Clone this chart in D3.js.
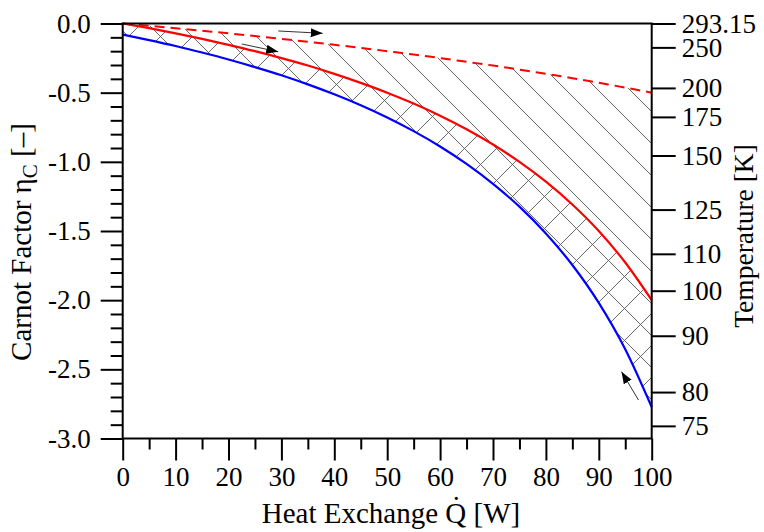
<!DOCTYPE html>
<html lang="en">
<head>
  <meta charset="UTF-8">
  <title>Carnot Factor vs Heat Exchange</title>
  <script src="https://d3js.org/d3.v7.min.js"></script>
  <style>
    body { margin: 0; background: #fff; }
    text { font-family: "Liberation Serif", "Times New Roman", serif; }
  </style>
</head>
<body>
  <svg width="764" height="532"></svg>
  <script>
    // heat exchange Q [W]
    const heat = [0, 5, 10, 15, 20, 25, 30, 35, 40, 45, 50, 55, 60, 65, 70, 75, 80, 85, 90, 95, 100];
    // carnot factors
    const etaRed = [0, -0.034, -0.071, -0.111, -0.154, -0.200, -0.250, -0.304, -0.364, -0.429, -0.500,
                    -0.579, -0.667, -0.765, -0.875, -1.000, -1.143, -1.308, -1.500, -1.728, -2.000];
    const etaBlue = [-0.080, -0.120, -0.163, -0.210, -0.260, -0.315, -0.374, -0.440, -0.512, -0.591, -0.679,
                     -0.778, -0.889, -1.015, -1.159, -1.324, -1.518, -1.746, -2.020, -2.355, -2.773];
    const etaDashed = [0, -0.017, -0.035, -0.053, -0.071, -0.091, -0.111, -0.132, -0.154, -0.176, -0.200,
                       -0.224, -0.250, -0.277, -0.304, -0.333, -0.364, -0.395, -0.429, -0.463, -0.500];

    const xMajor = [0, 10, 20, 30, 40, 50, 60, 70, 80, 90, 100];
    const xMinor = [5, 15, 25, 35, 45, 55, 65, 75, 85, 95];
    const yMajor = [0, -0.5, -1.0, -1.5, -2.0, -2.5, -3.0];
    const yMinor = [-0.1, -0.2, -0.3, -0.4, -0.6, -0.7, -0.8, -0.9, -1.1, -1.2, -1.3, -1.4,
                    -1.6, -1.7, -1.8, -1.9, -2.1, -2.2, -2.3, -2.4, -2.6, -2.7, -2.8, -2.9];
    const T0 = 293.15;
    const tempTicks = [293.15, 250, 200, 175, 150, 125, 110, 100, 90, 80, 75];
    const tempLabels = ["293.15", "250", "200", "175", "150", "125", "110", "100", "90", "80", "75"];

    // arrows [Q, eta] -> [Q, eta]
    const arrows = [
      { from: [29.4, -0.054], to: [37.8, -0.071] },
      { from: [22.5, -0.148], to: [29.4, -0.204] },
      { from: [97.5, -2.722], to: [94.3, -2.517] }
    ];

    const pLeft = 122.7, pRight = 651.7, pTop = 23.5, pBottom = 438.5;
    const fs = 27;

    const svg = d3.select("svg");
    const x = d3.scaleLinear().domain([0, 100]).range([pLeft, pRight]);
    const y = d3.scaleLinear().domain([0, -3]).range([pTop, pBottom]);

    const pts = (vals) => heat.map((q, i) => [q, vals[i]]);
    const line = d3.line().x(d => x(d[0])).y(d => y(d[1])).curve(d3.curveMonotoneX);

    const defs = svg.append("defs");
    const areaBetween = (upper, lower) => d3.area()
        .x((d, i) => x(heat[i]))
        .y0((d, i) => y(lower[i]))
        .y1((d, i) => y(upper[i]))
        .curve(d3.curveMonotoneX)(heat);

    defs.append("clipPath").attr("id", "clipSingle")
      .append("path").attr("d", areaBetween(etaDashed, etaBlue));
    defs.append("clipPath").attr("id", "clipCross")
      .append("path").attr("d", areaBetween(etaRed, etaBlue));

    defs.append("marker")
        .attr("id", "head")
        .attr("markerUnits", "userSpaceOnUse")
        .attr("markerWidth", 14).attr("markerHeight", 10)
        .attr("refX", 12).attr("refY", 4.5)
        .attr("orient", "auto")
      .append("path")
        .attr("d", "M0,0L12,4.5L0,9Z")
        .attr("fill", "#000");

    // hatching, spacing 32px vertical
    const step = 32;
    const back = d3.range(-21, 11).map(k => 4 + step * k);
    const fwd = d3.range(4, 36).map(k => 5 + step * k);

    svg.append("g").attr("clip-path", "url(#clipSingle)")
        .attr("stroke", "#555").attr("stroke-width", 0.9)
      .selectAll("line").data(back).join("line")
        .attr("x1", pLeft).attr("y1", c => pLeft + c)
        .attr("x2", pRight).attr("y2", c => pRight + c);

    svg.append("g").attr("clip-path", "url(#clipCross)")
        .attr("stroke", "#555").attr("stroke-width", 0.9)
      .selectAll("line").data(fwd).join("line")
        .attr("x1", pLeft).attr("y1", c => c - pLeft)
        .attr("x2", pRight).attr("y2", c => c - pRight);

    // curves
    svg.append("path").attr("d", line(pts(etaDashed)))
        .attr("fill", "none").attr("stroke", "#ff0000").attr("stroke-width", 2)
        .attr("stroke-dasharray", "10,6");
    svg.append("path").attr("d", line(pts(etaRed)))
        .attr("fill", "none").attr("stroke", "#ff0000").attr("stroke-width", 2.2);
    svg.append("path").attr("d", line(pts(etaBlue)))
        .attr("fill", "none").attr("stroke", "#0000ff").attr("stroke-width", 2.2);

    // arrows
    svg.append("g").selectAll("line").data(arrows).join("line")
        .attr("x1", d => x(d.from[0])).attr("y1", d => y(d.from[1]))
        .attr("x2", d => x(d.to[0])).attr("y2", d => y(d.to[1]))
        .attr("stroke", "#333").attr("stroke-width", 1)
        .attr("marker-end", "url(#head)");

    // frame
    svg.append("rect")
        .attr("x", pLeft).attr("y", pTop)
        .attr("width", pRight - pLeft).attr("height", pBottom - pTop)
        .attr("fill", "none").attr("stroke", "#000").attr("stroke-width", 2);

    function styleAxis(g) {
      g.select(".domain").remove();
      g.selectAll(".tick line").attr("stroke", "#000").attr("stroke-width", 2);
      g.selectAll("text").attr("font-size", fs).attr("fill", "#000")
        .attr("font-family", "Liberation Serif");
    }

    // left axis
    svg.append("g").attr("transform", `translate(${pLeft},0)`)
        .call(d3.axisLeft(y).tickValues(yMinor).tickSize(12).tickFormat(""))
        .call(styleAxis);
    svg.append("g").attr("transform", `translate(${pLeft},0)`)
        .call(d3.axisLeft(y).tickValues(yMajor).tickSize(22).tickPadding(10)
          .tickFormat(d => d.toFixed(1)))
        .call(styleAxis);

    // bottom axis
    svg.append("g").attr("transform", `translate(0,${pBottom})`)
        .call(d3.axisBottom(x).tickValues(xMinor).tickSize(11).tickFormat(""))
        .call(styleAxis);
    svg.append("g").attr("transform", `translate(0,${pBottom})`)
        .call(d3.axisBottom(x).tickValues(xMajor).tickSize(22).tickPadding(6))
        .call(styleAxis);

    // right temperature axis
    svg.append("g").attr("transform", `translate(${pRight},0)`)
        .call(d3.axisRight(y).tickValues(tempTicks.map(t => 1 - T0 / t))
          .tickSize(24).tickPadding(6).tickFormat((d, i) => tempLabels[i]))
        .call(styleAxis);

    // axis titles
    svg.append("text")
        .attr("transform", "translate(31,242) rotate(-90)")
        .attr("text-anchor", "middle").attr("font-size", 29)
        .call(t => {
          t.append("tspan").text("Carnot Factor η");
          t.append("tspan").attr("font-size", 21).attr("dy", 6).text("C");
          t.append("tspan").attr("dy", -6).text(" [\u2013]");
        });

    svg.append("text")
        .attr("transform", "translate(753,236) rotate(-90)")
        .attr("text-anchor", "middle").attr("font-size", 27.5)
        .text("Temperature [K]");

    svg.append("text")
        .attr("x", 391).attr("y", 523)
        .attr("text-anchor", "middle").attr("font-size", 29)
        .text("Heat Exchange Q\u0307 [W]");
  </script>
</body>
</html>
